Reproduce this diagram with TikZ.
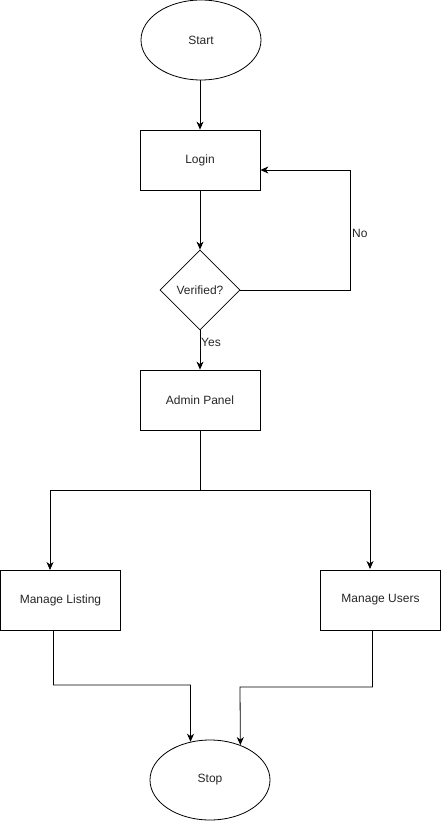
\documentclass[tikz,border=0pt]{standalone}
\usepackage{fontspec}
\setmainfont{Liberation Sans}
\usetikzlibrary{shapes.geometric,arrows.meta,calc}
\begin{document}
\begin{tikzpicture}[x=1pt,y=-1pt,
  every node/.style={font=\fontsize{12}{14}\selectfont, text=black!85},
  box/.style={draw, minimum width=120pt, minimum height=60pt, inner sep=0pt, line width=0.8pt},
  term/.style={ellipse, draw, minimum width=120pt, minimum height=80pt, inner sep=0pt, line width=0.8pt},
  dec/.style={diamond, draw, aspect=1, minimum width=80pt, minimum height=80pt, inner sep=0pt, line width=0.8pt},
  conn/.style={line width=0.8pt, -{Stealth[length=8pt,width=7pt,inset=2.5pt]}},
  plain/.style={line width=0.8pt},
  lbl/.style={inner sep=1pt, anchor=west}]
\useasboundingbox (0,0) rectangle (441,821);
\node[term] (start) at (201,40) {Start};
\node[box] (login) at (200,160) {Login};
\node[dec] (ver) at (200,290) {Verified?};
\node[box] (admin) at (200,400) {Admin Panel};
\node[box] (ml) at (60.5,600) {Manage Listing};
\node[box] (mu) at (380.5,600) {Manage Users};
\node[term] (stop) at (210,780) {Stop};
% connectors
\draw[conn] (start.south -| login.north) -- (login.north);
\draw[conn] (login.south) -- (ver.north);
\coordinate (loopA) at (350,290);
\coordinate (loopB) at (350,170);
\coordinate (loginR) at ($(login.east)+(0,10)$);
\draw[conn] (ver.east) -- (loopA) -- (loopB) -- (loginR);
\node[lbl] (no) at (351,233) {No};
\draw[conn] (ver.south) -- (admin.north);
\node[lbl] (yes) at (200,342) {Yes};
\coordinate (split) at (200,490);
\coordinate (splitL) at (50,490);
\coordinate (splitR) at (370,490);
\coordinate (mlT) at (50,570);
\coordinate (muT) at (370,569);
\draw[plain] (admin.south) -- (split);
\draw[conn] (split) -- (splitL) -- (mlT);
\draw[conn] (split) -- (splitR) -- (muT);
\coordinate (mlB) at (53.5,630);
\coordinate (mlC) at (53.5,685);
\coordinate (mlD) at (190.5,685);
\draw[conn] (mlB) -- (mlC) -- (mlD) -- (stop.117.9);
\coordinate (muB) at (372.5,630);
\coordinate (muC) at (372.5,687);
\coordinate (muD) at (240,687);
\draw[conn] (muB) -- (muC) -- (muD) -- (stop.49.1);
\end{tikzpicture}
\end{document}
